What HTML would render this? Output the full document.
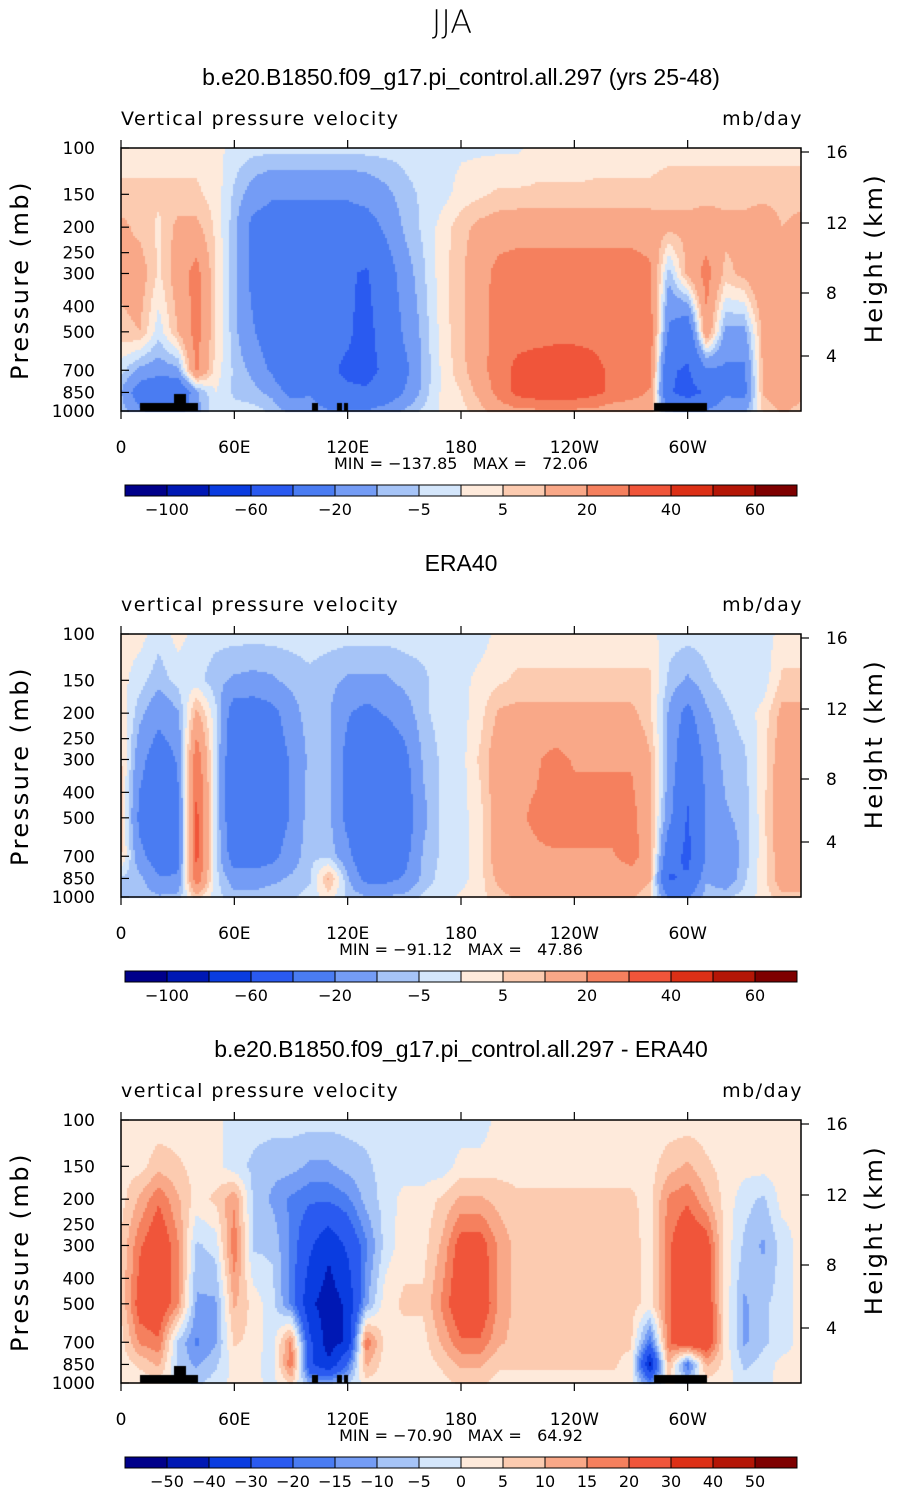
<!DOCTYPE html>
<html><head><meta charset="utf-8"><style>
body{margin:0;background:#fff;width:905px;height:1493px;position:relative;overflow:hidden;font-family:"Liberation Sans",sans-serif}
canvas{position:absolute;left:0;top:0}
svg{position:absolute;left:0;top:0}
text{font-family:"DejaVu Sans","Liberation Sans",sans-serif;white-space:pre}
text.ttl{font-family:"Liberation Sans",sans-serif}
</style></head><body>
<canvas id="cv" width="905" height="1493"></canvas>
<svg id="sv" width="905" height="1493"></svg>
<script>
// Longitudes 0..360 step 10; pressure levels
const lons = Array.from({length:37},(_,i)=>i*10);
const levels = [100,150,200,300,500,700,850,1000];

// Panel 1: model
const m_p100=[3,3,3,3,3,2,-2,-3,-3,-3,-3,-3,-3,-3,-3,-3,-2,-2,-1,-1,-1,-1,2,2,2,3,3,3,3,3,3,3,3,3,3,3,3];
const m_p150=[6,6,6,6,6,3,-6,-14,-18,-18,-18,-18,-18,-16,-12,-7,-4,-2,2,4,6,6,6,6,6,6,6,6,6,8,8,8,8,8,8,8,8];
const m_p200=[12,8,4,12,12,4,-8,-24,-28,-28,-28,-28,-28,-26,-18,-9,-4,2,8,12,14,15,15,15,15,15,15,15,15,12,12,14,12,12,15,10,12];
const m_p300=[12,14,4,14,24,5,-8,-24,-34,-38,-38,-38,-38,-42,-28,-14,-6,3,9,15,24,26,26,26,26,26,26,26,22,-8,12,24,8,12,19,10,12];
const m_p500=[8,10,-3,10,24,5,-8,-19,-29,-38,-38,-38,-38,-45,-33,-18,-8,2,9,15,26,27,27,27,27,27,27,27,26,-22,-32,18,-12,-12,12,12,12];
const m_p700=[-3,-12,-14,-12,22,3,-6,-12,-22,-38,-38,-38,-42,-45,-37,-24,-9,1,8,15,27,32,34,36,36,33,28,27,26,-38,-42,-22,-22,-22,12,12,12];
const m_p850=[-10,-28,-36,-36,-12,0,-6,-8,-12,-24,-22,-38,-38,-38,-32,-19,-8,1,5,12,24,33,37,37,37,33,28,24,19,-38,-46,-38,-22,-24,11,15,12];
const m_p1000=[-6,-18,-26,-26,-12,-2,-3,-3,-6,-12,-12,-19,-19,-19,-14,-9,-4,1,3,8,14,18,18,18,18,18,14,14,14,-18,-28,-19,-12,-12,6,11,8];

// Panel 2: ERA40
const e_p100=[2,2,-3,2,-2,-3,-3,-3,-3,-3,-3,-3,-3,-3,-3,-3,-3,-3,-3,-3,2,2,2,2,2,2,2,2,2,-3,-3,-3,-3,-3,-3,2,2];
const e_p150=[2,-3,-8,-3,-3,-8,-11,-12,-11,-8,-6,-8,-11,-11,-11,-8,-6,-3,-2,2,4,6,6,6,6,6,6,6,6,-6,-11,-6,-3,-3,-3,6,6];
const e_p200=[3,-8,-16,-11,12,-3,-28,-28,-24,-14,-6,-9,-19,-24,-19,-14,-6,-3,-2,3,11,12,12,12,12,12,12,12,6,-11,-24,-11,-6,-3,2,12,12];
const e_p300=[6,-16,-28,-19,28,-3,-34,-38,-28,-19,-8,-9,-24,-34,-34,-24,-9,-4,-2,6,15,19,19,23,19,19,19,19,11,-11,-34,-16,-8,-6,3,15,18];
const e_p500=[8,-24,-34,-24,33,-3,-34,-34,-28,-19,-6,-8,-24,-38,-38,-28,-12,-4,-2,3,15,19,21,24,24,24,24,24,12,-16,-42,-19,-11,-8,3,18,19];
const e_p700=[6,-16,-28,-24,33,-3,-28,-28,-24,-14,-6,-6,-16,-34,-34,-24,-9,-4,-2,3,15,19,19,19,19,19,19,24,15,-32,-44,-19,-16,-8,3,15,19];
const e_p850=[-6,-8,-19,-19,28,-3,-14,-14,-12,-9,-6,11,-9,-24,-24,-19,-8,-3,-2,3,12,15,15,15,15,15,15,15,11,-42,-38,-11,-16,-6,3,15,15];
const e_p1000=[-6,-6,-9,-8,8,-3,-8,-8,-6,-6,-3,3,-6,-9,-9,-8,-4,-2,1,3,8,11,11,11,11,11,11,11,6,-22,-22,-6,-6,-3,2,8,8];

// Panel 3: difference
const d_p100=[2,2,2,2,2,2,-3,-3,-3,-3,-3,-3,-3,-3,-3,-3,-3,-3,-3,-3,2,2,2,2,2,2,2,2,2,2,2,2,2,2,2,2,2];
const d_p150=[3,3,8,6,3,2,-3,-6,-8,-8,-11,-11,-8,-6,-3,-3,-3,-3,2,2,3,3,3,3,3,3,3,3,3,8,11,6,3,2,2,2,2];
const d_p200=[3,11,19,11,3,6,14,-6,-11,-16,-19,-19,-16,-8,-3,2,2,6,11,11,8,6,6,6,6,6,6,6,3,16,19,11,3,-3,-6,2,2];
const d_p300=[6,19,27,16,-6,-3,19,-6,-6,-16,-28,-38,-28,-16,-3,3,3,11,24,24,14,8,7,7,7,8,8,7,3,19,27,24,3,-6,-11,-3,2];
const d_p500=[6,24,27,16,-11,-11,11,3,-3,-16,-38,-45,-38,-11,3,6,6,16,27,27,14,8,8,8,8,8,8,7,3,19,27,27,3,-11,-6,-3,2];
const d_p700=[3,16,19,-6,-16,-11,6,3,-3,16,-28,-45,-38,19,3,3,3,11,19,19,11,8,7,7,6,6,6,6,-19,19,28,28,3,-11,-6,-3,2];
const d_p850=[2,6,11,-6,-11,-6,2,2,-3,19,-28,-38,-19,11,2,2,2,6,11,11,6,6,6,6,6,6,6,3,-42,11,-19,11,3,-6,-3,2,2];
const d_p1000=[2,2,3,-3,-6,-3,2,2,-2,6,-11,-11,-6,3,2,2,2,3,6,6,3,3,3,3,3,3,3,2,-16,3,-6,3,2,-3,-2,2,2];

const absLevels=[-100,-80,-60,-40,-20,-10,-5,0,5,10,20,30,40,50,60];
const absLabels=["-100","","-60","","-20","","-5","","5","","20","","40","","60"];
const difLevels=[-50,-40,-30,-20,-15,-10,-5,0,5,10,15,20,30,40,50];
const difLabels=["-50","-40","-30","-20","-15","-10","-5","0","5","10","15","20","30","40","50"];
const minMax=[["-137.85","72.06"],["-91.12","47.86"],["-70.90","64.92"]];
const colors=["#00008a","#0018b4","#0a3ce0","#2a5af0","#4a7cf2","#749cf5","#a6c4f7","#d4e6fb","#feeadb","#fccbb0","#f9a888","#f5805e","#f0553a","#dc3016","#b41606","#7e0000"];

const X0=121,X1=801,H=263;
const tops=[148,634,1120];
const fields=[[m_p100,m_p150,m_p200,m_p300,m_p500,m_p700,m_p850,m_p1000],
              [e_p100,e_p150,e_p200,e_p300,e_p500,e_p700,e_p850,e_p1000],
              [d_p100,d_p150,d_p200,d_p300,d_p500,d_p700,d_p850,d_p1000]];
const lvlSets=[absLevels,absLevels,difLevels];
const xOf=l=>X0+l*(X1-X0)/360;
const yOf=(p,top)=>top+(Math.log10(p)-2)*H;

const ctx=document.getElementById('cv').getContext('2d');
function colorFor(v,lv){let i=0;while(i<lv.length&&v>=lv[i])i++;return colors[i];}
const lls=levels.map(p=>Math.log10(p));
function sample(f,lon,lp){
  let i=Math.min(35,Math.floor(lon/10));let tx=(lon-lons[i])/10;
  let j=0;while(j<lls.length-2&&lp>lls[j+1])j++;
  let ty=(lp-lls[j])/(lls[j+1]-lls[j]);ty=Math.max(0,Math.min(1,ty));
  const a=f[j][i]*(1-tx)+f[j][i+1]*tx,b=f[j+1][i]*(1-tx)+f[j+1][i+1]*tx;
  return a*(1-ty)+b*ty;
}
for(let k=0;k<3;k++){
  const top=tops[k];
  for(let y=top;y<top+H;y+=2){
    const lp=2+(y+1-top)/H;
    for(let x=X0;x<X1;x+=2){
      const lon=(x+1-X0)*360/(X1-X0);
      ctx.fillStyle=colorFor(sample(fields[k],lon,lp),lvlSets[k]);
      ctx.fillRect(x,y,2,2);
    }
  }
}
// topography (panels 1 and 3)
ctx.fillStyle="#000";
[0,2].forEach(k=>{const b=tops[k]+H;
  [[140,198,8],[174,186,17],[312,318,8],[337,342,8],[344,348,8],[654,707,8]].forEach(r=>ctx.fillRect(r[0],b-r[2],r[1]-r[0],r[2]));
});

const NS="http://www.w3.org/2000/svg";
const sv=document.getElementById('sv');
function el(tag,attrs,txt){const e=document.createElementNS(NS,tag);for(const a in attrs)e.setAttribute(a,attrs[a]);if(txt!==undefined)e.textContent=txt;sv.appendChild(e);return e;}
let t=el('text',{x:452,y:33,'font-size':32,'text-anchor':'middle','font-weight':'200'},'JJA');

const titles=["b.e20.B1850.f09_g17.pi_control.all.297 (yrs 25-48)","ERA40","b.e20.B1850.f09_g17.pi_control.all.297 - ERA40"];
const subs=["Vertical pressure velocity","vertical pressure velocity","vertical pressure velocity"];
const pTicks=[100,150,200,250,300,400,500,700,850,1000];
const hTicks=[16,12,8,4];const hOff=[4,75,145,208];
const xTicks=[0,60,120,180,240,300];const xLabels=["0","60E","120E","180","120W","60W"];
for(let k=0;k<3;k++){
  const top=tops[k],bot=top+H;
  t=el('text',{x:461,y:top-63,'font-size':23,'text-anchor':'middle','class':'ttl'},titles[k]);
  
  t=el('text',{x:121,y:top-23,'font-size':19,'letter-spacing':'1.5'},subs[k]);
  
  t=el('text',{x:803,y:top-23,'font-size':19,'text-anchor':'end','letter-spacing':'1.5'},'mb/day');
  
  let r=el('rect',{x:X0,y:top,width:X1-X0,height:H,fill:'none',stroke:'#000','stroke-width':1.5});
  
  pTicks.forEach(p=>{const y=yOf(p,top);
    el('line',{x1:X0,x2:X0+8,y1:y,y2:y,stroke:'#000','stroke-width':1.2});
    t=el('text',{x:95,y:y+6,'font-size':17,'text-anchor':'end'},String(p));
    });
  hTicks.forEach((h,i)=>{const y=top+hOff[i];
    el('line',{x1:X1,x2:X1+8,y1:y,y2:y,stroke:'#000','stroke-width':1.2});
    t=el('text',{x:826,y:y+6,'font-size':17},String(h));
    });
  xTicks.forEach((l,i)=>{const x=xOf(l);
    el('line',{x1:x,x2:x,y1:bot,y2:bot+8,stroke:'#000','stroke-width':1.2});
    el('line',{x1:x,x2:x,y1:top,y2:top-8,stroke:'#000','stroke-width':1.2});
    t=el('text',{x:x,y:bot+42,'font-size':17,'text-anchor':'middle'},xLabels[i]);
    });
  t=el('text',{x:28,y:top+132,'font-size':24,'text-anchor':'middle','letter-spacing':'2.5',transform:`rotate(-90 28 ${top+132})`},'Pressure (mb)');
  
  t=el('text',{x:882,y:top+110,'font-size':24,'text-anchor':'middle','letter-spacing':'2.5',transform:`rotate(-90 882 ${top+110})`},'Height (km)');
  
  t=el('text',{x:461,y:bot+58,'font-size':16,'text-anchor':'middle'},`MIN = ${minMax[k][0].replace('-','\u2212')}   MAX =   ${minMax[k][1]}`);
  
  // colorbar
  const cy=top+337,bw=42;
  colors.forEach((c,i)=>{const b=el('rect',{x:125+i*bw,y:cy,width:bw,height:11,fill:c,stroke:'#000','stroke-width':1});
    });
  const labs=k==2?difLabels:absLabels;
  labs.forEach((s,i)=>{if(!s)return;
    t=el('text',{x:125+(i+1)*bw,y:cy+30,'font-size':16,'text-anchor':'middle'},s.replace('-','\u2212'));
    });
}
</script>
</body></html>
